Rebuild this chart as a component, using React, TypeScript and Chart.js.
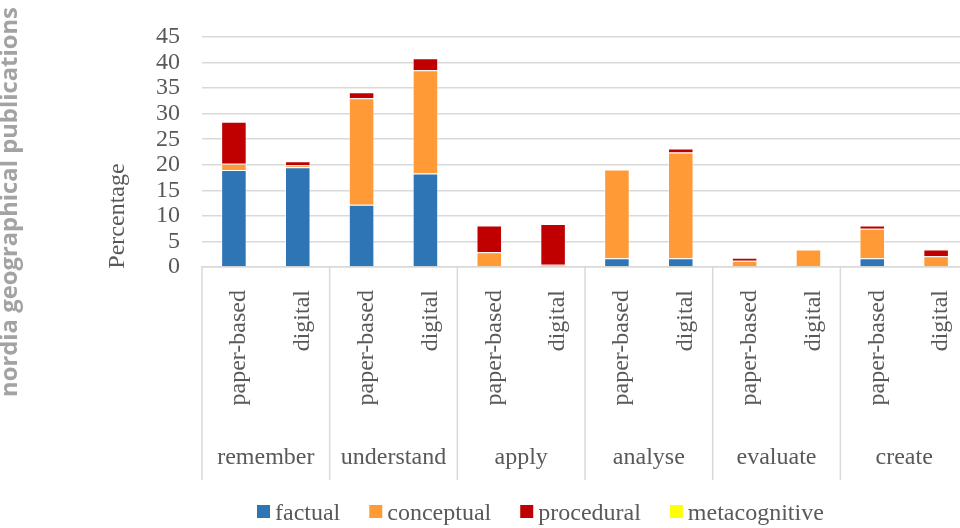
import React, { useEffect, useRef } from "react";
import { Chart, registerables } from "chart.js";

Chart.register(...registerables);

const groups = ["remember", "understand", "apply", "analyse", "evaluate", "create"];
const modes = ["paper-based", "digital"];
const categories = groups.flatMap(() => modes);

const factual = [19.0, 19.5, 12.2, 18.3, 0, 0, 1.7, 1.7, 0, 0, 1.7, 0];
const conceptual = [1.2, 0.4, 20.8, 20.2, 2.9, 0.45, 17.4, 20.7, 1.2, 3.4, 5.8, 2.1];
const procedural = [8.2, 0.8, 1.2, 2.35, 5.2, 7.95, 0, 0.8, 0.6, 0, 0.6, 1.3];
const metacognitive = [0, 0, 0, 0, 0, 0, 0, 0, 0, 0, 0, 0];

const yTicks = [0, 5, 10, 15, 20, 25, 30, 35, 40, 45];

const seriesNames = ["factual", "conceptual", "procedural", "metacognitive"];
const seriesColors = ["#2e75b6", "#ff9a36", "#c00000", "#ffff00"];

const SERIF = "'Liberation Serif', 'Times New Roman', serif";
const TEXT = "#595959";
const GRID = "#d9d9d9";

const decorPlugin = {
  id: "decor",
  afterDraw(chart: any) {
    const ctx = chart.ctx;
    const x = chart.scales.x;
    const area = chart.chartArea;
    const step = x.getPixelForValue(1) - x.getPixelForValue(0);

    ctx.save();
    // group separators
    ctx.strokeStyle = GRID;
    ctx.lineWidth = 1.5;
    for (let i = 0; i <= categories.length; i += 2) {
      const px = x.getPixelForValue(i) - step / 2;
      ctx.beginPath();
      ctx.moveTo(px, area.bottom);
      ctx.lineTo(px, 480);
      ctx.stroke();
    }
    // group labels
    ctx.fillStyle = TEXT;
    ctx.font = `24px ${SERIF}`;
    ctx.textAlign = "center";
    ctx.textBaseline = "alphabetic";
    groups.forEach((g, k) => {
      const px = (x.getPixelForValue(2 * k) + x.getPixelForValue(2 * k + 1)) / 2;
      ctx.fillText(g, px, 464);
    });

    // legend
    let lx = 257;
    ctx.textAlign = "left";
    chart.data.datasets.forEach((ds: any) => {
      ctx.fillStyle = ds.backgroundColor;
      ctx.fillRect(lx, 505, 13, 13);
      ctx.fillStyle = TEXT;
      ctx.fillText(ds.label, lx + 18, 520);
      lx += 18 + ctx.measureText(ds.label).width + 29;
    });

    // y title
    ctx.save();
    ctx.translate(124, 216);
    ctx.rotate(-Math.PI / 2);
    ctx.textAlign = "center";
    ctx.textBaseline = "alphabetic";
    ctx.fillStyle = TEXT;
    ctx.font = `24px ${SERIF}`;
    ctx.fillText("Percentage", 0, 0);
    ctx.restore();

    // watermark
    ctx.save();
    ctx.translate(17, 202);
    ctx.rotate(-Math.PI / 2);
    ctx.textAlign = "center";
    ctx.textBaseline = "alphabetic";
    ctx.fillStyle = "#a3a3a3";
    ctx.font = `bold 20px 'Open Sans', sans-serif`;
    const w = ctx.measureText("nordia geographical publications").width;
    const size = (20 * 390) / w;
    ctx.font = `bold ${size.toFixed(2)}px 'Open Sans', sans-serif`;
    ctx.fillText("nordia geographical publications", 0, 0);
    ctx.restore();

    ctx.restore();
  },
};

export default function App() {
  const ref = useRef<HTMLCanvasElement | null>(null);

  useEffect(() => {
    if (!ref.current) return;
    const data = [factual, conceptual, procedural, metacognitive];
    const chart = new Chart(ref.current, {
      type: "bar",
      data: {
        labels: categories,
        datasets: seriesNames.map((name, i) => ({
          label: name,
          data: data[i],
          backgroundColor: seriesColors[i],
          borderColor: "rgba(255,255,255,0.45)",
          borderWidth: 1,
          categoryPercentage: 1,
          barPercentage: 0.4,
        })),
      },
      options: {
        animation: false,
        responsive: true,
        maintainAspectRatio: false,
        layout: { padding: { left: 0, right: 2, top: 37, bottom: 0 } },
        plugins: {
          legend: { display: false },
          tooltip: { enabled: false },
        },
        scales: {
          x: {
            stacked: true,
            grid: { display: false, drawTicks: false },
            border: { display: true, color: GRID, width: 1.5 },
            ticks: {
              autoSkip: false,
              maxRotation: 90,
              minRotation: 90,
              padding: 23,
              labelOffset: 5,
              color: TEXT,
              font: { family: SERIF, size: 24 },
            },
            afterFit(scale: any) {
              scale.height = 261;
            },
          },
          y: {
            stacked: true,
            min: 0,
            max: 45,
            afterBuildTicks(scale: any) {
              scale.ticks = yTicks.map((v) => ({ value: v }));
            },
            grid: { color: GRID, lineWidth: 1.5, drawTicks: false },
            border: { display: false },
            ticks: {
              autoSkip: false,
              stepSize: 5,
              padding: 22,
              color: TEXT,
              font: { family: SERIF, size: 24 },
            },
            afterFit(scale: any) {
              scale.width = 202;
            },
          },
        },
      },
      plugins: [decorPlugin],
    });
    return () => chart.destroy();
  }, []);

  return (
    <div
      style={{
        position: "fixed",
        left: 0,
        top: 0,
        width: 960,
        height: 528,
        overflow: "hidden",
        background: "#fff",
      }}
    >
      <div style={{ position: "relative", width: 988, height: 528 }}>
        <canvas ref={ref} />
      </div>
    </div>
  );
}
